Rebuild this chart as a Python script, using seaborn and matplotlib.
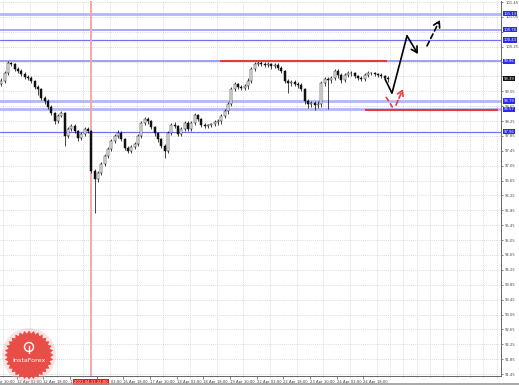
import numpy as np
import pandas as pd
import matplotlib
matplotlib.use("Agg")
import matplotlib.pyplot as plt
from matplotlib.patches import Polygon, Circle
import matplotlib.transforms as mtransforms
import seaborn as sns

# ---------------- data (2-hour candles, x in hours) ----------------
first_open = 99.25
closes = [99.33, 99.54, 99.81, 99.78, 99.65, 99.60, 99.52, 99.43, 99.41, 99.33,
          99.17, 99.11, 98.87, 98.79, 98.63, 98.47, 98.25, 98.39, 98.47, 97.85,
          98.04, 98.12, 97.98, 97.79, 97.90, 98.04, 97.98, 96.91, 96.69, 96.85,
          97.10, 97.31, 97.50, 97.71, 97.85, 97.93, 97.77, 97.53, 97.45, 97.55,
          97.63, 97.85, 98.20, 98.31, 98.25, 98.09, 97.93, 97.77, 97.58, 97.45,
          97.93, 98.14, 98.12, 97.90, 98.04, 98.20, 98.04, 98.20, 98.41, 98.31,
          98.14, 98.12, 98.14, 98.17, 98.22, 98.25, 98.39, 98.52, 98.71, 99.11,
          99.25, 99.17, 99.14, 99.19, 99.33, 99.65, 99.78, 99.81, 99.78, 99.76,
          99.78, 99.73, 99.76, 99.68, 99.60, 99.33, 99.27, 99.30, 99.25, 99.22,
          99.11, 98.79, 98.71, 98.74, 98.68, 98.71, 99.27, 99.38, 99.35, 99.41,
          99.60, 99.49, 99.35, 99.49, 99.54, 99.54, 99.46, 99.41, 99.38, 99.49,
          99.54, 99.54, 99.51, 99.49, 99.46, 99.41, 99.37]
highs = [99.40, 99.60, 99.86, 99.84, 99.80, 99.69, 99.64, 99.56, 99.50, 99.45,
         99.36, 99.22, 99.15, 98.93, 98.84, 98.68, 98.50, 98.44, 98.52, 98.50,
         98.10, 98.18, 98.16, 98.02, 97.96, 98.10, 98.08, 98.00, 96.95, 96.92,
         97.15, 97.36, 97.55, 97.76, 97.90, 98.00, 97.98, 97.80, 97.58, 97.60,
         97.68, 97.90, 98.26, 98.36, 98.35, 98.28, 98.12, 97.96, 97.80, 97.62,
         97.98, 98.20, 98.22, 98.15, 98.09, 98.26, 98.24, 98.25, 98.46, 98.44,
         98.34, 98.19, 98.18, 98.21, 98.27, 98.30, 98.44, 98.58, 98.77, 99.17,
         99.31, 99.28, 99.22, 99.25, 99.40, 99.70, 99.84, 99.87, 99.86, 99.83,
         99.84, 99.82, 99.81, 99.80, 99.72, 99.63, 99.38, 99.36, 99.35, 99.30,
         99.27, 99.14, 98.84, 98.80, 98.79, 98.78, 99.32, 99.44, 99.43, 99.47,
         99.66, 99.64, 99.53, 99.54, 99.59, 99.60, 99.58, 99.50, 99.45, 99.54,
         99.59, 99.58, 99.57, 99.55, 99.53, 99.50, 99.45]
lows = [99.20, 99.28, 99.50, 99.72, 99.60, 99.55, 99.47, 99.38, 99.35, 99.28,
        99.10, 98.95, 98.82, 98.72, 98.57, 98.40, 98.18, 98.20, 98.36, 97.58,
        97.80, 97.98, 97.92, 97.72, 97.74, 97.85, 97.92, 96.85, 95.78, 96.60,
        96.80, 97.04, 97.25, 97.44, 97.65, 97.80, 97.72, 97.48, 97.38, 97.40,
        97.50, 97.58, 97.80, 98.14, 98.18, 98.03, 97.86, 97.70, 97.52, 97.26,
        97.40, 97.88, 98.05, 97.84, 97.85, 97.98, 97.98, 97.98, 98.14, 98.25,
        98.08, 98.05, 98.06, 98.08, 98.12, 98.15, 98.18, 98.33, 98.45, 98.65,
        99.05, 99.10, 99.08, 99.08, 99.12, 99.28, 99.60, 99.72, 99.72, 99.70,
        99.70, 99.66, 99.68, 99.62, 99.54, 99.26, 99.00, 99.20, 99.18, 99.15,
        99.05, 98.72, 98.60, 98.64, 98.56, 98.60, 98.64, 99.20, 98.58, 99.28,
        99.35, 99.42, 99.28, 99.30, 99.44, 99.46, 99.40, 99.35, 99.32, 99.33,
        99.44, 99.48, 99.45, 99.43, 99.40, 99.35, 99.30]

level_prices = [101.13, 100.70, 100.43, 99.86, 98.79, 98.57, 97.96]
level_widths = [2.0, 1.3, 0.9, 1.1, 2.0, 2.0, 0.9]
level_colors = ["#b4b7f7", "#9ea2f3", "#6f73ef", "#8185f2", "#b4b7f7", "#b4b7f7", "#6f73ef"]
current_price = 99.39

resist_price, resist_start, resist_end = 99.86, 132, 232
support_price, support_start, support_end = 98.55, 219, 299
marker_hour = 54.6
marker_label = "2021.04.13 22:00"

proj_x = [231.0, 235.2, 244.2, 250.8]
proj_y = [99.38, 99.00, 100.54, 100.05]
proj2_x = [256.2, 264.0]
proj2_y = [100.27, 100.97]
alt_x = [231.6, 235.8]
alt_y = [98.90, 98.60]
alt2_x = [237.6, 241.8]
alt2_y = [98.68, 99.11]

time_ticks = [-6, 10, 26, 42, 58, 74, 90, 106, 122, 138, 154, 170, 186, 202, 218]
time_labels = ["11 Apr 10:00", "12 Apr 02:00", "12 Apr 18:00", "13 Apr 10:00", "14 Apr 02:00",
               "16 Apr 18:00", "17 Apr 10:00", "18 Apr 02:00", "18 Apr 18:00", "19 Apr 10:00",
               "22 Apr 02:00", "22 Apr 18:00", "23 Apr 10:00", "24 Apr 02:00", "24 Apr 18:00"]
price_ticks = [91.45, 91.85, 92.25, 92.65, 93.05, 93.45, 93.85, 94.25, 94.65, 95.05,
               95.45, 95.85, 96.25, 96.65, 97.05, 97.45, 97.85, 98.25, 98.65, 99.05,
               99.45, 99.85, 100.25, 100.65, 101.05, 101.45]

FS = 2.7

# ---------------- figure ----------------
sns.set_theme(style="white")
plt.rcParams["font.family"] = ["DejaVu Sans"]

W, H = 519, 385
fig = plt.figure(figsize=(W / 100, H / 100), dpi=100)
ax = fig.add_axes([0 / W, 1 - 376 / H, 501 / W, 375 / H])
ax.set_xlim(0, 300.6)
ax.set_ylim(91.397, 101.477)

df = pd.DataFrame({"close": closes, "high": highs, "low": lows})
df["open"] = [first_open] + closes[:-1]
df["hour"] = np.arange(len(df)) * 2 + 0.8
df["up"] = df["close"] >= df["open"]

# tick labels hidden where a highlighted price box sits
marked = level_prices + [current_price]
shown = [f"{p:.2f}" if min(abs(p - m) for m in marked) > 0.065 else "" for p in price_ticks]

grid_kw = dict(color="#cfcfcf", lw=0.5, ls=(0, (1.5, 1.5)))
ax.set_yticks(price_ticks)
ax.set_yticklabels(shown)
ax.set_xticks(time_ticks[1:])
ax.set_xticklabels(time_labels[1:], ha="left")
ax.set_xticks(np.arange(2, 300, 8), minor=True)
ax.grid(True, which="major", axis="y", **grid_kw)
ax.grid(True, which="minor", axis="x", **grid_kw)
ax.grid(False, which="major", axis="x")
ax.set_axisbelow(True)

ax.yaxis.tick_right()
ax.tick_params(axis="y", which="both", labelsize=FS, labelcolor="#444444", length=1.5,
               width=0.5, color="#555555", pad=1.5, right=True, left=False)
ax.tick_params(axis="x", which="major", labelsize=FS, labelcolor="#444444", length=2,
               width=0.5, color="#555555", pad=1.2, bottom=True)
ax.tick_params(axis="x", which="minor", length=1, width=0.4, color="#777777", bottom=True)
for lab in ax.get_xticklabels():
    lab.set_horizontalalignment("left")
for s in ["top", "left"]:
    ax.spines[s].set_visible(False)
for s in ["right", "bottom"]:
    ax.spines[s].set_color("#666666")
    ax.spines[s].set_linewidth(0.7)

tb = mtransforms.blended_transform_factory(ax.transData, ax.transAxes)
ax.text(time_ticks[0], -0.0105, time_labels[0], transform=tb, fontsize=FS, color="#444444",
        ha="left", va="top", clip_on=False)

# horizontal levels
for p, w, c in zip(level_prices, level_widths, level_colors):
    ax.axhline(p, color=c, lw=w, zorder=1)

# vertical marker
ax.axvline(marker_hour, color="#f5a0a0", lw=1.3, zorder=1)

# candles
ax.vlines(df["hour"], df["low"], df["high"], color="#111111", lw=0.55, zorder=3)
bottoms = np.minimum(df["open"], df["close"])
heights = np.maximum(np.abs(df["close"] - df["open"]), 0.012)
face = np.where(df["up"], "#ffffff", "#111111")
ax.bar(df["hour"], heights, bottom=bottoms, width=1.35, color=face,
       edgecolor="#111111", linewidth=0.35, zorder=4)

# red support / resistance lines
ax.hlines(resist_price, resist_start, resist_end, color="#e63b3b", lw=1.5, zorder=5)
ax.hlines(support_price, support_start, support_end, color="#e63b3b", lw=1.5, zorder=5)

# projection paths
sns.lineplot(x=proj_x[:-1], y=proj_y[:-1], sort=False, color="black", lw=1.2, ax=ax,
             zorder=6, estimator=None)
ax.annotate("", xy=(proj_x[-1], proj_y[-1]), xytext=(proj_x[-2], proj_y[-2]),
            arrowprops=dict(arrowstyle="->,head_length=0.35,head_width=0.2", color="black",
                            lw=1.2, shrinkA=0, shrinkB=0), zorder=6)
ax.annotate("", xy=(proj2_x[-1], proj2_y[-1]), xytext=(proj2_x[0], proj2_y[0]),
            arrowprops=dict(arrowstyle="->,head_length=0.35,head_width=0.2", color="black",
                            lw=1.2, ls=(0, (3, 2)), shrinkA=0, shrinkB=0), zorder=6)
sns.lineplot(x=alt_x, y=alt_y, sort=False, color="#e63b3b", lw=1.2, ax=ax, zorder=6,
             estimator=None, linestyle=(0, (3, 1.5)))
ax.annotate("", xy=(alt2_x[-1], alt2_y[-1]), xytext=(alt2_x[0], alt2_y[0]),
            arrowprops=dict(arrowstyle="->,head_length=0.3,head_width=0.18", color="#e63b3b",
                            lw=1.2, ls=(0, (3, 1.5)), shrinkA=0, shrinkB=0), zorder=6)
ax.set_xlabel("")
ax.set_ylabel("")

# highlighted price labels on right axis
yb = mtransforms.blended_transform_factory(ax.transAxes, ax.transData)
for p in level_prices:
    ax.text(1.005, p, f"{p:.2f}", transform=yb, fontsize=FS, color="white", ha="left",
            va="center", clip_on=False, zorder=10,
            bbox=dict(boxstyle="square,pad=0.15", fc="#2b2bf0", ec="none"))
ax.text(1.005, current_price, f"{current_price:.2f}", transform=yb, fontsize=FS,
        color="white", ha="left", va="center", clip_on=False, zorder=10,
        bbox=dict(boxstyle="square,pad=0.15", fc="#111111", ec="none"))

# red time marker label
ax.text(marker_hour, -0.0105, marker_label, transform=tb, fontsize=FS, color="white",
        ha="center", va="top", clip_on=False, zorder=10,
        bbox=dict(boxstyle="square,pad=0.3", fc="#f01818", ec="none"))

# overlay in pixel coordinates for logo and frame
ov = fig.add_axes([0, 0, 1, 1], zorder=20)
ov.set_xlim(0, W)
ov.set_ylim(H, 0)
ov.axis("off")
ov.patch.set_alpha(0)
cx, cy = 29, 355
n = 64
ang = np.linspace(0, 2 * np.pi, n, endpoint=False)
halo = Circle((cx, cy), 27, fc="#f3b0ae", ec="none", alpha=0.35)
ov.add_patch(halo)
rad = np.where(np.arange(n) % 2 == 0, 24.5, 21.5)
star = Polygon(np.column_stack([cx + rad * np.cos(ang), cy + rad * np.sin(ang)]),
               closed=True, fc="#e8403a", ec="none", alpha=0.92)
ov.add_patch(star)
ov.add_patch(Circle((cx, cy - 8), 4.5, fc="none", ec="white", lw=1.0))
ov.plot([cx, cx], [cy - 9, cy - 2], color="white", lw=1.0)
ov.text(cx, cy + 6, "InstaForex", color="white", fontsize=4.6, ha="center", va="center")
ov.plot([0, W], [H - 1.2, H - 1.2], color="#999999", lw=1.2)

fig.savefig("out.png", dpi=100)
